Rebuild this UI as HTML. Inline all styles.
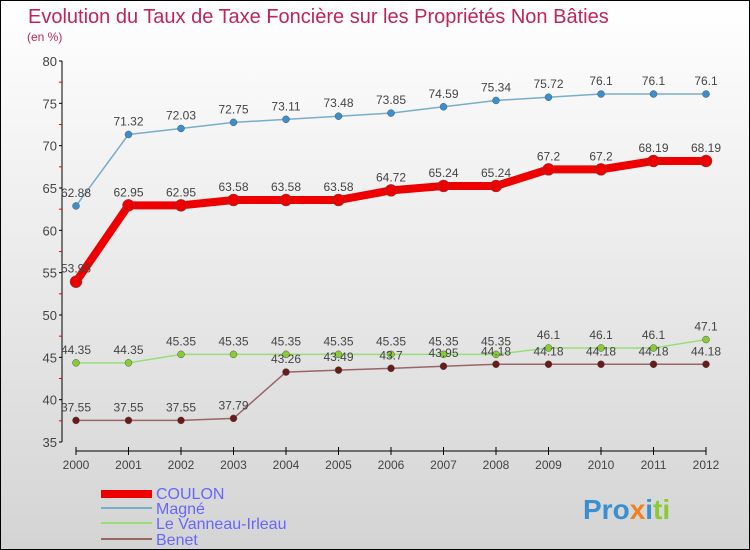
<!DOCTYPE html>
<html><head><meta charset="utf-8"><style>
body{margin:0}
#c{width:748px;height:548px;border:1px solid #000;background:linear-gradient(#fff,#d4d4d4);position:relative;overflow:hidden;font-family:"Liberation Sans",sans-serif}
</style></head><body>
<div id="c">
<svg id="s" width="748" height="548" xmlns="http://www.w3.org/2000/svg">
<text x="27" y="22" font-size="20" fill="#c0245c">Evolution du Taux de Taxe Foncière sur les Propriétés Non Bâties</text>
<text x="26" y="40" font-size="12" fill="#c0245c">(en %)</text>
<g id="axes"></g><g id="series"></g>
<g>
<rect x="100" y="489" width="51" height="8" fill="#e00"/>
<text x="155" y="498" font-size="16" fill="#66f">COULON</text>
<rect x="100" y="506" width="51" height="2" fill="#7aaccc"/>
<text x="155" y="513" font-size="16" fill="#66f">Magné</text>
<rect x="100" y="521" width="51" height="2" fill="#9d7"/>
<text x="155" y="528" font-size="16" fill="#66f">Le Vanneau-Irleau</text>
<rect x="100" y="537" width="51" height="2" fill="#966"/>
<text x="155" y="544" font-size="16" fill="#66f">Benet</text>
</g>
<text x="582" y="518" font-size="28" font-weight="bold"><tspan fill="#3a8fd0">Pro</tspan><tspan fill="#f08020">x</tspan><tspan fill="#3a8fd0">i</tspan><tspan fill="#8c3">ti</tspan></text>
</svg></div>
<script>
const years=[2000,2001,2002,2003,2004,2005,2006,2007,2008,2009,2010,2011,2012];
const coulon=[53.93,62.95,62.95,63.58,63.58,63.58,64.72,65.24,65.24,67.2,67.2,68.19,68.19];
const magne=[62.88,71.32,72.03,72.75,73.11,73.48,73.85,74.59,75.34,75.72,76.1,76.1,76.1];
const vanneau=[44.35,44.35,45.35,45.35,45.35,45.35,45.35,45.35,45.35,46.1,46.1,46.1,47.1];
const benet=[37.55,37.55,37.55,37.79,43.26,43.49,43.7,43.95,44.18,44.18,44.18,44.18,44.18];
const yTicks=[35,40,45,50,55,60,65,70,75,80];
const NS="http://www.w3.org/2000/svg";
const X=i=>75+i*52.5, Y=v=>441-(v-35)*(381/45);
function mk(t,a,p){const e=document.createElementNS(NS,t);for(const k in a)e.setAttribute(k,a[k]);p.appendChild(e);return e;}
const ax=document.getElementById('axes');
let l=mk('line',{x1:61,y1:60,x2:61,y2:441,stroke:'#000'},ax);


l=mk('line',{x1:75,y1:450,x2:705,y2:450,stroke:'#000'},ax);


yTicks.forEach((v,i)=>{
 mk('line',{x1:58,y1:Y(v),x2:61,y2:Y(v),stroke:'#000'},ax);
 const t=mk('text',{x:56,y:Y(v)+5,'font-size':13,fill:'#444','text-anchor':'end'},ax);
 t.textContent=v;
 
 
 if(i<yTicks.length-1) mk('line',{x1:58,y1:Y(v+2.5),x2:61,y2:Y(v+2.5),stroke:'#e00'},ax);
});
years.forEach((y,i)=>{
 mk('line',{x1:X(i),y1:446,x2:X(i),y2:454,stroke:'#000'},ax);
 const t=mk('text',{x:X(i),y:468,'font-size':12,fill:'#444','text-anchor':'middle'},ax);
 t.textContent=y;
 
 
});
const sg=document.getElementById('series');
function series(name,data,stroke,dot,w,r){
 const g=mk('g',{},sg);
 
 
 const p=mk('polyline',{points:data.map((v,i)=>X(i)+','+Y(v)).join(' '),fill:'none',stroke:stroke,'stroke-width':w},g);
 
 
 data.forEach((v,i)=>{
  const c=mk('circle',{cx:X(i),cy:Y(v),r:r,fill:dot,stroke:'#555','stroke-width':0.5},g);
  
  
  const t=mk('text',{x:X(i),y:Y(v)-9,'font-size':12,fill:'#444','text-anchor':'middle'},g);
  t.textContent=v;
  
  
 });
}
series('magne',magne,'#7aaccc','#3a8fd0',1.5,3.5);
series('vanneau',vanneau,'#9d7','#8c3',1.5,3.5);
series('benet',benet,'#966','#6b1a1a',1.5,3.5);
series('coulon',coulon,'#e00','#e00',8,6);
</script>
</body></html>
